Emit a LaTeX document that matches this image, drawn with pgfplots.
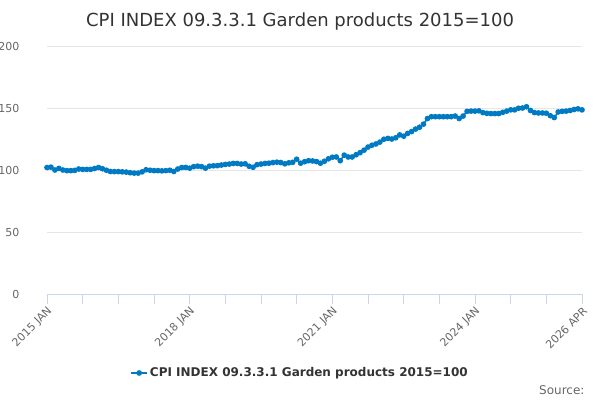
\documentclass[border=0pt]{standalone}
\usepackage{pgfplots}
\pgfplotsset{compat=1.18}
\usepackage{fontspec}
\setmainfont{DejaVu Sans}
\definecolor{serie}{RGB}{0,122,195}
\definecolor{gridc}{RGB}{230,230,230}
\definecolor{axc}{RGB}{204,214,235}
\definecolor{labc}{RGB}{102,102,102}
\definecolor{titc}{RGB}{51,51,51}
\begin{document}
\begin{tikzpicture}[x=1pt,y=1pt]
\useasboundingbox (0,0) rectangle (600,400);
\begin{axis}[
  at={(47pt,106pt)}, anchor=origin,
  scale only axis, width=535pt, height=248pt,
  xmin=0, xmax=135, ymin=0, ymax=200,
  axis x line=bottom, axis y line=left,
  axis line style={-, draw=axc, line width=0.8pt},
  y axis line style={draw=none},
  ytick={0,50,100,150,200},
  ytick style={draw=none},
  xtick={0,36,72,108,135},
  xticklabels={2015 JAN,2018 JAN,2021 JAN,2024 JAN,2026 APR},
  minor xtick={9,18,27,45,54,63,81,90,99,117,126},
  tick align=outside,
  major tick length=10pt, minor tick length=10pt,
  xtick style={draw=axc, line width=0.8pt},
  minor x tick style={draw=axc, line width=0.8pt},
  ymajorgrids, grid style={gridc, line width=0.8pt},
  /pgf/number format/assume math mode=true,
  tick label style={font=\fontsize{11}{13}\selectfont, text=labc},
  yticklabel style={anchor=east, xshift=-14pt},
  xticklabel style={rotate=45, anchor=east, xshift=2pt, yshift=-6pt},
  title={CPI INDEX 09.3.3.1 Garden products 2015=100},
  title style={font=\fontsize{18}{21}\selectfont, text=titc, at={(axis description cs:0.473,1.075)}, anchor=center},
  legend style={draw=none, fill=none, font=\bfseries\fontsize{12}{14}\selectfont, text=titc,
    at={(axis description cs:0.473,-0.3185)}, anchor=center},
  legend image code/.code={\draw[#1, line width=1.6pt] (0pt,0pt) -- (16pt,0pt); \fill[serie] (8pt,0pt) circle (2pt);},
  clip=false,
]
\addplot[serie, line width=1.6pt, mark=*, mark size=2pt, mark options={fill=serie, draw=serie}] table {
x y
0 102
1 102.3
2 100
3 101.3
4 100
5 99.5
6 99.5
7 99.7
8 100.8
9 100.5
10 100.5
11 100.5
12 101.2
13 102
14 101
15 99.8
16 98.8
17 98.7
18 98.7
19 98.5
20 98.3
21 97.8
22 97.5
23 97.5
24 98.5
25 100.2
26 99.8
27 99.5
28 99.5
29 99.3
30 99.5
31 99.8
32 98.8
33 100.8
34 102
35 102.1
36 101.5
37 102.7
38 103.1
39 102.7
40 101.5
41 103.1
42 103.4
43 103.5
44 104
45 104.5
46 104.8
47 105.3
48 105.3
49 104.8
50 105
51 103
52 102.2
53 104.3
54 104.8
55 105.3
56 105.5
57 106
58 106.3
59 106
60 105
61 105.8
62 106.2
63 108.7
64 105.5
65 106.7
66 107.5
67 107.3
68 106.8
69 105.5
70 107
71 109
72 110.3
73 110.5
74 107.5
75 112
76 110.5
77 110.5
78 112.3
79 114
80 116
81 118.5
82 120
83 121
84 122.5
85 124.8
86 125.5
87 125
88 126
89 128.3
90 127.3
91 129.5
92 131
93 133
94 134.5
95 137
96 141.5
97 143
98 143
99 143
100 143
101 143
102 143
103 143.5
104 141.5
105 143.5
106 147.3
107 147.5
108 147.5
109 147.7
110 146.3
111 145.7
112 145.5
113 145.5
114 145.5
115 146.5
116 147.5
117 148.5
118 148.5
119 149.8
120 150
121 151
122 148
123 146.3
124 146
125 146
126 145.8
127 143.8
128 142.3
129 146.8
130 147.3
131 147.5
132 148
133 148.8
134 149.3
135 148.5
};
\addlegendentry{CPI INDEX 09.3.3.1 Garden products 2015=100}
\end{axis}
\node[anchor=base east, font=\fontsize{12}{14}\selectfont, text=labc] at (588,6) {Source:};
\end{tikzpicture}
\end{document}
